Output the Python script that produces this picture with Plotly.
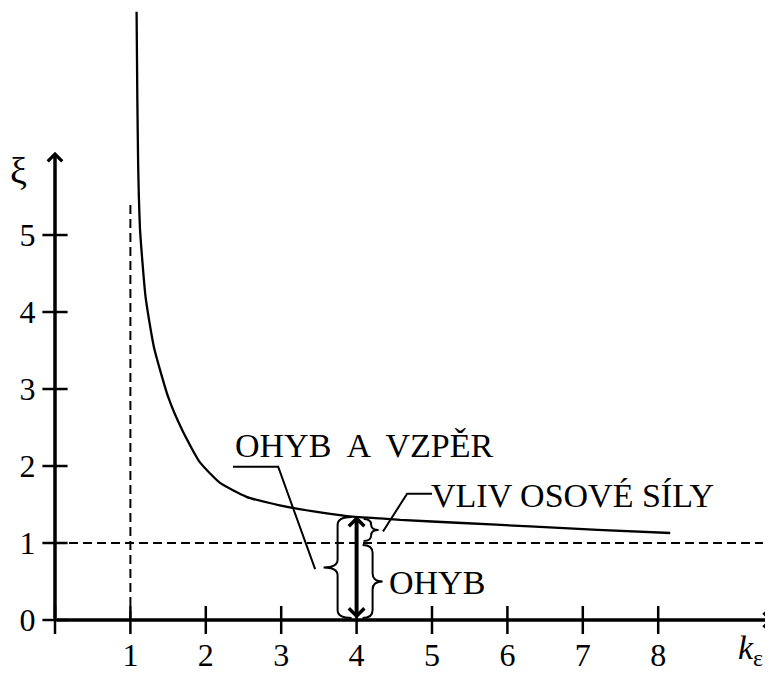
import plotly.graph_objects as go

# curve xi(k_eps)
k_curve = [1.082, 1.092, 1.103, 1.113, 1.127, 1.145, 1.203, 1.313, 1.503, 1.69,
           1.92, 2.19, 2.54, 2.98, 3.43, 3.87, 4.31, 4.58, 5.4, 6.3, 7.2, 8.16]
xi_curve = [7.90, 6.76, 5.90, 5.47, 5.08, 4.83, 4.18, 3.54, 2.89, 2.46,
            2.05, 1.78, 1.60, 1.49, 1.41, 1.35, 1.32, 1.30, 1.26, 1.215, 1.17, 1.13]

x_ticks = [0, 1, 2, 3, 4, 5, 6, 7, 8]
y_ticks = [0, 1, 2, 3, 4, 5]

asym_k = 1.0        # vertical dashed asymptote
asym_xi = 1.0       # horizontal dashed asymptote
asym_k_top = 5.44   # where the vertical dashed line stops
k_mark = 4.0        # position of the bold double arrow
xi_mark = 1.35      # curve value at k_mark

label_total = "OHYB  A  VZPĚR"
label_axial = "VLIV OSOVÉ SÍLY"
label_bend = "OHYB"

SERIF = "Liberation Serif"

# the page has an 8px body margin, so the figure is drawn 8px smaller
W, H = 765, 665
ML, MB = 47, 49
PW, PH = W - ML, H - MB
KPX = 1 / 75.4      # k per pixel
XPX = 1 / 77.5      # xi per pixel
x_max = PW * KPX
y_max = PH * XPX


def paper_x(px):
    return (px - 8 - ML) / PW


def paper_y(py):
    return 1 - (py - 8) / PH


def brace(x_back, y_top, y_bot, depth, side):
    # side -1 -> "{" (tip on the left), +1 -> "}" (tip on the right)
    xm = x_back + side * depth * 0.5
    xt = x_back + side * depth
    ym = (y_top + y_bot) / 2
    r = min(8 * XPX, (y_top - y_bot) / 4)
    return (f"M {x_back},{y_top} Q {xm},{y_top} {xm},{y_top - r} "
            f"L {xm},{ym + r} Q {xm},{ym} {xt},{ym} "
            f"Q {xm},{ym} {xm},{ym - r} L {xm},{y_bot + r} "
            f"Q {xm},{y_bot} {x_back},{y_bot}")


fig = go.Figure()

# dashed asymptotes
fig.add_trace(go.Scatter(x=[0, x_max - 10 * KPX], y=[asym_xi, asym_xi], mode="lines",
                         line=dict(color="black", width=2, dash="9px,5px")))
fig.add_trace(go.Scatter(x=[asym_k, asym_k], y=[0, asym_k_top], mode="lines",
                         line=dict(color="black", width=2, dash="9px,5px")))

# main curve
fig.add_trace(go.Scatter(x=k_curve, y=xi_curve, mode="lines",
                         line=dict(color="black", width=2.3, shape="spline", smoothing=0.5)))

# crossing tick marks
fig.add_trace(go.Scatter(x=x_ticks, y=[0] * len(x_ticks), mode="markers", cliponaxis=False,
                         marker=dict(symbol="line-ns", size=20,
                                     line=dict(color="black", width=2.5))))
fig.add_trace(go.Scatter(x=[0] * len(y_ticks), y=y_ticks, mode="markers", cliponaxis=False,
                         marker=dict(symbol="line-ew", size=18,
                                     line=dict(color="black", width=2.5))))

shapes = []
# braces
shapes.append(dict(type="path", xref="x", yref="y",
                   path=brace(k_mark - 5 * KPX, xi_mark - 1 * XPX, 2 * XPX, 28 * KPX, -1),
                   line=dict(color="black", width=2)))
shapes.append(dict(type="path", xref="x", yref="y",
                   path=brace(k_mark + 6 * KPX, asym_xi - 2 * XPX, 2 * XPX, 20 * KPX, 1),
                   line=dict(color="black", width=2)))
shapes.append(dict(type="path", xref="x", yref="y",
                   path=brace(k_mark + 7 * KPX, xi_mark - 3 * XPX, asym_xi + 2 * XPX, 15 * KPX, 1),
                   line=dict(color="black", width=2)))
# leader lines
shapes.append(dict(type="path", xref="x", yref="y",
                   path="M 2.36,1.99 L 2.96,1.99 L 3.45,0.66",
                   line=dict(color="black", width=2)))
shapes.append(dict(type="path", xref="x", yref="y",
                   path="M 5.0,1.64 L 4.67,1.64 L 4.35,1.15",
                   line=dict(color="black", width=2)))

annotations = []
# axes with open arrow heads
annotations.append(dict(x=x_max, y=0, ax=0, ay=0, xref="x", yref="y", axref="x", ayref="y",
                        text="", showarrow=True, arrowhead=4, arrowsize=0.8, arrowwidth=3.5,
                        arrowcolor="black", standoff=0))
annotations.append(dict(x=0, y=6.08, ax=0, ay=0, xref="x", yref="y", axref="x", ayref="y",
                        text="", showarrow=True, arrowhead=4, arrowsize=0.8, arrowwidth=3.5,
                        arrowcolor="black", standoff=0))
# bold double arrow
annotations.append(dict(x=k_mark, y=xi_mark, ax=k_mark, ay=0, xref="x", yref="y",
                        axref="x", ayref="y", text="", showarrow=True,
                        arrowside="end+start", arrowhead=4, startarrowhead=4,
                        arrowsize=0.75, startarrowsize=0.75, arrowwidth=4,
                        arrowcolor="black", standoff=0, startstandoff=0))
# texts
annotations.append(dict(x=2.36, y=2.26, xref="x", yref="y", text=label_total, showarrow=False,
                        xanchor="left", yanchor="middle", font=dict(family=SERIF, size=34, color="black")))
annotations.append(dict(x=4.96, y=1.62, xref="x", yref="y", text=label_axial, showarrow=False,
                        xanchor="left", yanchor="middle", font=dict(family=SERIF, size=34, color="black")))
annotations.append(dict(x=4.40, y=0.49, xref="x", yref="y", text=label_bend, showarrow=False,
                        xanchor="left", yanchor="middle", font=dict(family=SERIF, size=34, color="black")))
annotations.append(dict(x=paper_x(18), y=paper_y(172), xref="paper", yref="paper", text="ξ",
                        showarrow=False, xanchor="center", yanchor="middle",
                        font=dict(family=SERIF, size=38, color="black")))
annotations.append(dict(x=paper_x(736), y=paper_y(654), xref="paper", yref="paper",
                        text="<i>k</i><sub>ε</sub>", showarrow=False, xanchor="left", yanchor="middle",
                        font=dict(family=SERIF, size=34, color="black")))

fig.update_layout(
    width=W, height=H,
    margin=dict(l=ML, r=0, t=0, b=MB),
    paper_bgcolor="white", plot_bgcolor="white",
    showlegend=False,
    shapes=shapes, annotations=annotations,
    xaxis=dict(range=[0, x_max], showgrid=False, zeroline=False, showline=False,
               tickvals=x_ticks[1:], ticktext=[str(v) for v in x_ticks[1:]],
               ticks="outside", ticklen=7, tickcolor="rgba(0,0,0,0)",
               tickfont=dict(family=SERIF, size=32, color="black")),
    yaxis=dict(range=[0, y_max], showgrid=False, zeroline=False, showline=False,
               tickvals=y_ticks, ticktext=[str(v) for v in y_ticks],
               ticks="outside", ticklen=12, tickcolor="rgba(0,0,0,0)",
               tickfont=dict(family=SERIF, size=32, color="black")),
)

fig.write_html("out.html")
